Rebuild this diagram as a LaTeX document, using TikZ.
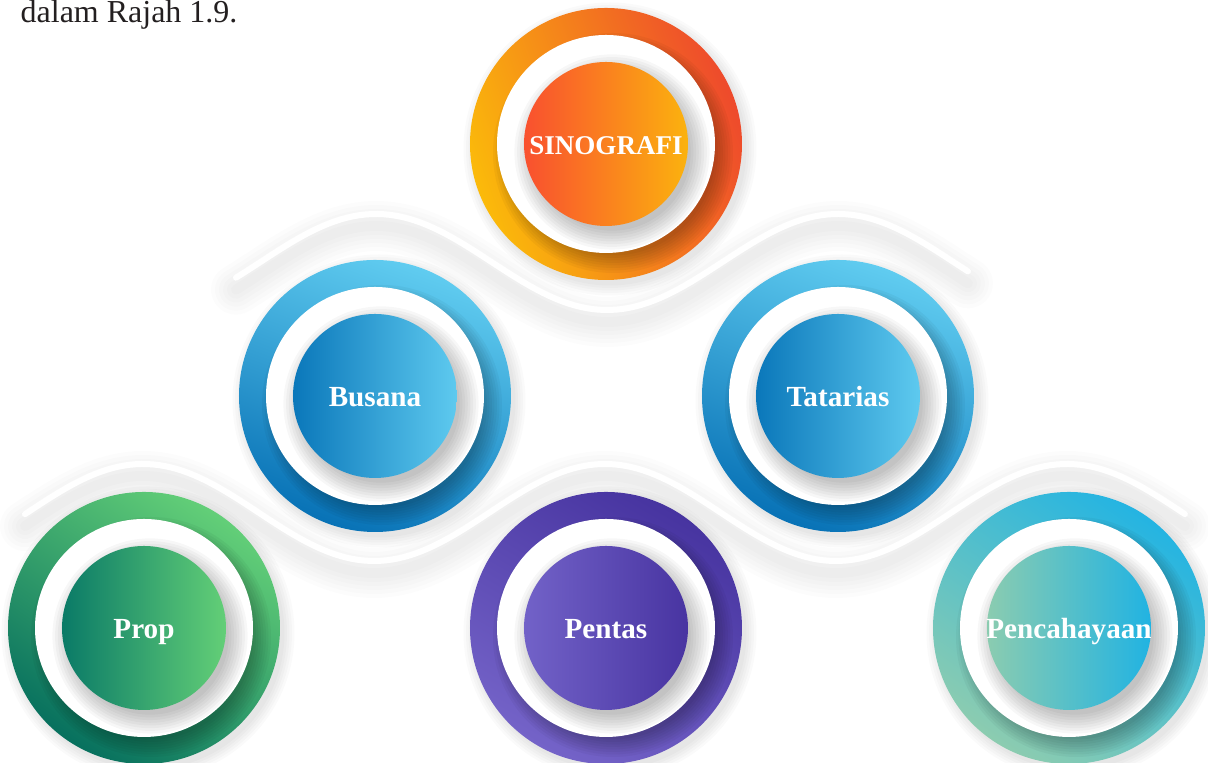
\documentclass[tikz,border=0pt]{standalone}
\usepackage{fontspec}
\setmainfont{Liberation Serif}
\usetikzlibrary{calc}

\definecolor{captiongrey}{HTML}{231F20}
\definecolor{sinoRingA}{HTML}{EE4A2C}
\definecolor{sinoRingB}{HTML}{FBBA0A}
\definecolor{sinoDiscL}{HTML}{F9502F}
\definecolor{sinoDiscR}{HTML}{FBB20E}
\definecolor{biruRingA}{HTML}{60CCF0}
\definecolor{biruRingB}{HTML}{0872B6}
\definecolor{biruDiscL}{HTML}{0A77BA}
\definecolor{biruDiscR}{HTML}{5ECAEF}
\definecolor{propRingA}{HTML}{63CF78}
\definecolor{propRingB}{HTML}{07705E}
\definecolor{propDiscL}{HTML}{0A7A67}
\definecolor{propDiscR}{HTML}{63CF77}
\definecolor{pentasRingA}{HTML}{4734A0}
\definecolor{pentasRingB}{HTML}{7463C8}
\definecolor{pentasDiscL}{HTML}{7262C8}
\definecolor{pentasDiscR}{HTML}{4834A1}
\definecolor{cahayaRingA}{HTML}{24B4E2}
\definecolor{cahayaRingB}{HTML}{8CCCB0}
\definecolor{cahayaDiscL}{HTML}{8BCCB0}
\definecolor{cahayaDiscR}{HTML}{21B3E2}

\tikzset{
  labeltext/.style={text=white, font=\fontsize{8.3}{10}\selectfont\bfseries, inner sep=0pt, anchor=base},
  waveshadow/.style={line cap=round, black, opacity=0.011},
  waveline/.style={line cap=round, white, line width=0.06cm},
}

% badge: (centre){name}{colour prefix}{label}{ring shading angle}
\def\badge(#1)#2#3#4#5{%
  \foreach \k in {1,...,5}
    \fill[black, opacity=0.018] ($(#1)+(0.04,-0.05)$) circle[radius={1.34+0.025*\k}];
  \shade[top color=#3RingA, bottom color=#3RingB, shading angle=#5] (#1) circle (1.36);
  \foreach \k in {1,...,8}
    \fill[black, opacity=0.035] ($(#1)+(0.07,-0.09)$) circle[radius={1.0+0.025*\k}];
  \fill[white] (#1) circle (1.09);
  \foreach \k in {1,...,8}
    \fill[black, opacity=0.03] ($(#1)+(0.06,-0.08)$) circle[radius={0.76+0.027*\k}];
  \shade[left color=#3DiscL, right color=#3DiscR] (#1) circle (0.82);
  \node[labeltext] (#2) at ($(#1)+(0,-0.11)$) {#4};
}

\begin{document}
\begin{tikzpicture}
			%%%%% START %%%%%
			
			\useasboundingbox (0, 0) rectangle (12.08, 7.63);
			
			\node[anchor=base west, inner sep=0pt, text=captiongrey, font=\fontsize{9.1}{11}\selectfont] (rajah) at (0.2, 7.40) {dalam Rajah 1.9.};
			
			% upper wave
			\foreach \w in {0.5, 0.42, 0.34, 0.26, 0.18, 0.1}
				\draw[waveshadow, line width=\w cm, domain=2.36:9.68, samples=120] plot (\x, {4.89+0.48*cos(360*(\x-3.76)/4.62)});
			\draw[waveline, domain=2.36:9.68, samples=120] plot (\x, {5.01+0.48*cos(360*(\x-3.76)/4.62)});
			
			% lower wave
			\foreach \w in {0.5, 0.42, 0.34, 0.26, 0.18, 0.1}
				\draw[waveshadow, line width=\w cm, domain=0.25:11.85, samples=200] plot (\x, {2.385+0.485*cos(360*(\x-1.43)/4.62)});
			\draw[waveline, domain=0.25:11.85, samples=200] plot (\x, {2.505+0.485*cos(360*(\x-1.43)/4.62)});
			
			\badge(6.06, 6.19){sinografi}{sino}{\fontsize{7.7}{9}\selectfont SINOGRAFI}{-70}
			\badge(3.75, 3.67){busana}{biru}{Busana}{-20}
			\badge(8.38, 3.67){tatarias}{biru}{Tatarias}{-20}
			\badge(1.44, 1.35){prop}{prop}{Prop}{-35}
			\badge(6.06, 1.35){pentas}{pentas}{Pentas}{-30}
			\badge(10.69, 1.35){pencahayaan}{cahaya}{Pencahayaan}{-35}
			
			%%%%% END %%%%%
\end{tikzpicture}
\end{document}
